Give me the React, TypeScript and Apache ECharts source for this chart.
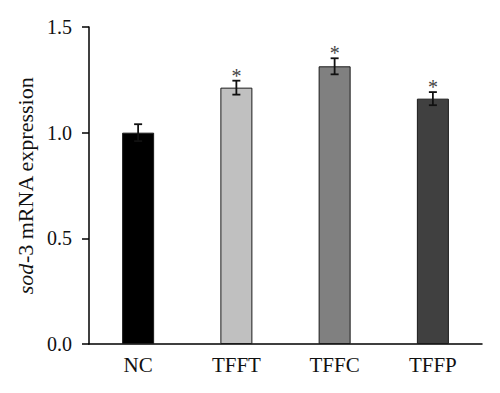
import React, { useEffect, useRef } from "react";
import * as echarts from "echarts";

const categories = ["NC", "TFFT", "TFFC", "TFFP"];
const values = [1.0, 1.213, 1.314, 1.161];
const errors = [0.04, 0.033, 0.038, 0.031];
const significance = ["", "*", "*", "*"];
const barColors = ["#000000", "#c0c0c0", "#808080", "#404040"];
const yTicks = [0, 0.5, 1.0, 1.5];

const FONT = "'Liberation Serif', 'DejaVu Serif', serif";

export default function App() {
  const ref = useRef<HTMLDivElement>(null);
  useEffect(() => {
    if (!ref.current) return;
    const chart = echarts.init(ref.current, null, { renderer: "svg" });
    const errData = categories.map((c, i) => [i, values[i], errors[i]]);
    chart.setOption({
      animation: false,
      backgroundColor: "#ffffff",
      grid: { left: 89, right: 18, top: 27, bottom: 49 },
      xAxis: {
        type: "category",
        data: categories,
        axisLine: { lineStyle: { color: "#000", width: 1.5 } },
        axisTick: { alignWithLabel: true, length: 6, lineStyle: { color: "#000", width: 1.5 } },
        axisLabel: { color: "#111", fontFamily: FONT, fontSize: 21, margin: 10 },
      },
      yAxis: {
        type: "value",
        min: yTicks[0],
        max: yTicks[yTicks.length - 1],
        interval: 0.5,
        splitLine: { show: false },
        axisLine: { show: true, lineStyle: { color: "#000", width: 1.5 } },
        axisTick: { show: true, length: 7, lineStyle: { color: "#000", width: 1.5 } },
        axisLabel: {
          color: "#111",
          fontFamily: FONT,
          fontSize: 20,
          margin: 17,
          formatter: (v: number) => v.toFixed(1),
        },
        name: "{i|sod}-3 mRNA expression",
        nameLocation: "middle",
        nameGap: 53,
        nameTextStyle: {
          color: "#111",
          fontFamily: FONT,
          fontSize: 22,
          rich: {
            i: { fontStyle: "italic", fontFamily: FONT, fontSize: 22, color: "#111" },
          },
        },
      },
      series: [
        {
          type: "bar",
          barWidth: 32,
          data: values.map((v, i) => ({
            value: v,
            itemStyle: { color: barColors[i], borderColor: "#1a1a1a", borderWidth: 1 },
          })),
        },
        {
          type: "custom",
          data: errData,
          z: 10,
          renderItem: (params: any, api: any) => {
            const x = api.value(0);
            const v = api.value(1);
            const e = api.value(2);
            const star = significance[params.dataIndex];
            const top = api.coord([x, v + e]);
            const bot = api.coord([x, v - e]);
            const cw = 4;
            const style = { stroke: "#111", lineWidth: 1.8 };
            const children: any[] = [
              { type: "line", shape: { x1: top[0], y1: top[1], x2: bot[0], y2: bot[1] }, style },
              { type: "line", shape: { x1: top[0] - cw, y1: top[1], x2: top[0] + cw, y2: top[1] }, style },
              { type: "line", shape: { x1: bot[0] - cw, y1: bot[1], x2: bot[0] + cw, y2: bot[1] }, style },
            ];
            if (star) {
              children.push({
                type: "text",
                x: top[0],
                y: top[1] + 5,
                style: {
                  text: star,
                  fontFamily: FONT,
                  fontSize: 20,
                  fill: "#444",
                  align: "center",
                  verticalAlign: "bottom",
                },
              });
            }
            return { type: "group", children };
          },
        },
      ],
    });
    return () => chart.dispose();
  }, []);
  return <div ref={ref} style={{ width: 500, height: 393, position: "absolute", left: 0, top: 0 }} />;
}
